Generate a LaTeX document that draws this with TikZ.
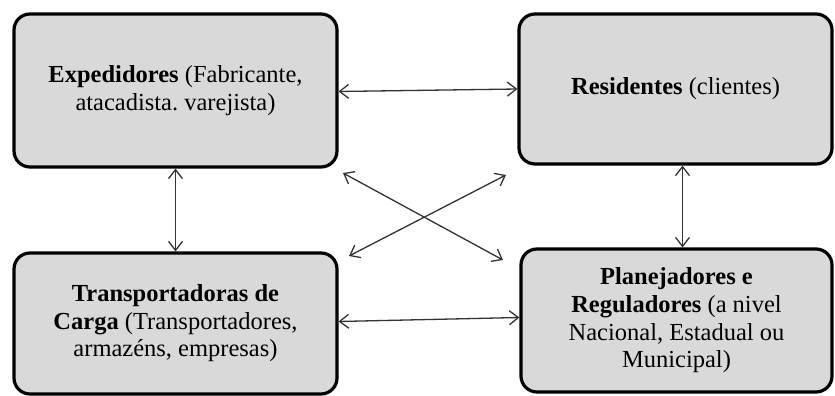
\documentclass[tikz,border=0pt]{standalone}
\usepackage{fontspec}
\setmainfont{Liberation Serif}
\usetikzlibrary{arrows.meta}
\frenchspacing
\definecolor{boxgray}{HTML}{D9D9D9}
\definecolor{linegray}{HTML}{333333}
\tikzset{
  actor/.style={draw=black, line width=3.2pt, fill=boxgray, rounded corners=16pt,
    align=center, font=\fontsize{24.5}{27.6}\selectfont, inner sep=4pt},
  link/.style={draw=linegray, line width=1.3pt, {Straight Barb[length=9pt,width=14pt,line width=1.3pt]}-{Straight Barb[length=9pt,width=14pt,line width=1.3pt]}}
}
\begin{document}
\begin{tikzpicture}[x=1pt,y=-1pt]
\useasboundingbox (0,0) rectangle (835,396);
\node[actor, minimum width=323pt, minimum height=153pt] (TL) at (175.5,90.5)
  {\textbf{Expedidores} (Fabricante,\\atacadista. varejista)};
\node[actor, minimum width=313pt, minimum height=150pt] (TR) at (675.5,89)
  {\textbf{Residentes} (clientes)};
\node[actor, minimum width=323pt, minimum height=141pt] (BL) at (175.5,323.5)
  {\textbf{Transportadoras de}\\\textbf{Carga} (Transportadores,\\armazéns, empresas)};
\node[actor, minimum width=311pt, minimum height=143pt] (BR) at (676.5,320.5)
  {\textbf{Planejadores e}\\\textbf{Reguladores} (a nivel\\Nacional, Estadual ou\\Municipal)};
\coordinate (d1a) at (343,173);
\coordinate (d1b) at (503,260);
\coordinate (d2a) at (349,256);
\coordinate (d2b) at (506,175);
\draw[link] ([yshift=-1pt]TL.east) -- (TR.west);
\draw[link] ([yshift=2pt]BL.east) -- ([yshift=3pt]BR.west);
\draw[link] (TL.south) -- (BL.north);
\draw[link] ([xshift=7pt]TR.south) -- ([xshift=6pt]BR.north);
\draw[link] (d1a) -- (d1b);
\draw[link] (d2a) -- (d2b);
\end{tikzpicture}
\end{document}
